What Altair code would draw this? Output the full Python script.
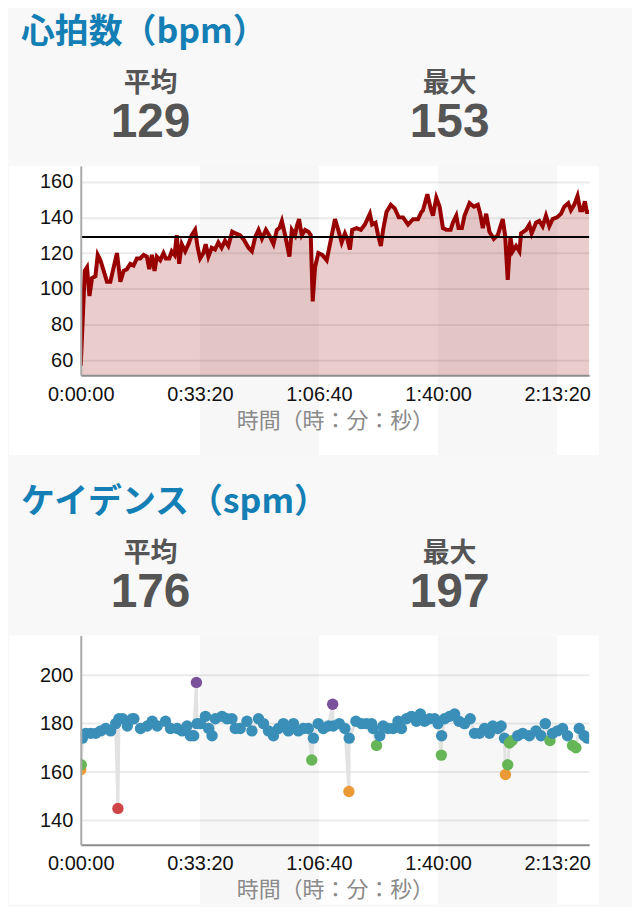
import altair as alt
import pandas as pd

# ---------------- data ----------------
stat_labels = ["平均", "最大"]
hr_stats = [129, 153]
cad_stats = [176, 197]

hr_time = [0, 67, 105, 146, 189, 246, 285, 330, 385, 440, 497, 552, 608, 665, 720, 775, 832, 887,
           942, 999, 1055, 1110, 1150, 1194, 1239, 1277, 1334, 1389, 1428, 1485, 1528, 1574, 1612,
           1652, 1696, 1753, 1808, 1863, 1920, 1964, 2004, 2059, 2098, 2143, 2198, 2255, 2310, 2365,
           2422, 2478, 2544, 2600, 2673, 2729, 2817, 2874, 2930, 2985, 3042, 3109, 3164, 3236, 3293,
           3336, 3377, 3432, 3504, 3544, 3599, 3628, 3666, 3711, 3767, 3822, 3862, 3895, 3934, 3989,
           4056, 4130, 4185, 4269, 4324, 4381, 4436, 4475, 4520, 4558, 4632, 4704, 4771, 4855, 4893,
           4950, 4993, 5039, 5077, 5134, 5206, 5273, 5340, 5412, 5496, 5580, 5663, 5720, 5747, 5820,
           5876, 5914, 5971, 6026, 6082, 6139, 6211, 6249, 6306, 6344, 6400, 6445, 6529, 6601, 6668,
           6708, 6751, 6808, 6863, 6936, 7002, 7048, 7086, 7126, 7170, 7215, 7254, 7310, 7366, 7394,
           7478, 7533, 7572, 7645, 7700, 7756, 7812, 7868, 7923, 7997, 8064, 8119, 8186, 8231, 8286,
           8342, 8387, 8426, 8466, 8499, 8537]
hr_bpm = [57, 110, 112, 96, 106, 107, 119, 116, 110, 104, 104, 112, 120, 104, 110, 111, 114, 113,
          117, 117, 119, 118, 111, 119, 110, 118, 116, 120, 117, 117, 121, 119, 130,
          114, 125, 121, 125, 130, 133, 123, 117, 120, 125, 118, 123, 122, 126, 123,
          127, 124, 132, 131, 130, 128, 123, 121, 129, 133, 128, 133, 130, 125, 133,
          134, 138, 130, 118, 133, 130, 135, 139, 130, 133, 132, 130, 93, 112, 120,
          119, 116, 125, 139, 133, 126, 131, 128, 122, 133, 134, 133, 136, 142, 136,
          137, 130, 124, 133, 143, 147, 145, 140, 140, 136, 139, 139, 143, 144, 153,
          145, 141, 151, 146, 134, 133, 133, 137, 141, 134, 134, 141, 148, 146, 147,
          142, 134, 142, 132, 128, 130, 135, 139, 130, 105, 129, 121, 124, 121, 131,
          133, 136, 131, 137, 138, 135, 141, 135, 139, 140, 142, 146, 148, 144, 147,
          152, 144, 144, 149, 143, 143]

cad_time = [0, 8, 28, 84, 167, 251, 335, 419, 502, 586, 624, 641, 703, 782, 865, 892, 1004, 1117,
            1200, 1284, 1423, 1507, 1619, 1702, 1786, 1841, 1897, 1942, 1954, 2009, 2093, 2148,
            2205, 2260, 2372, 2456, 2539, 2595, 2678, 2791, 2874, 2985, 3068, 3152, 3236, 3320,
            3403, 3487, 3571, 3654, 3738, 3822, 3879, 3906, 3989, 4073, 4157, 4230, 4240, 4341,
            4436, 4503, 4508, 4620, 4716, 4799, 4883, 4910, 4967, 5022, 5077, 5161, 5245, 5328,
            5385, 5469, 5553, 5636, 5703, 5775, 5859, 5943, 5998, 6055, 6060, 6110, 6194, 6278,
            6350, 6445, 6540, 6612, 6696, 6780, 6863, 6919, 7002, 7059, 7115, 7132, 7170, 7198,
            7243, 7337, 7421, 7533, 7645, 7729, 7801, 7879, 7923, 8007, 8091, 8174, 8258, 8315,
            8370, 8454, 8509]
cad_spm = [161, 163, 174, 176, 176, 176, 177, 178, 177, 180, 145, 182, 182, 179, 182, 182, 178, 179,
           181, 179, 181, 178, 178, 177, 179, 175, 175, 197, 180, 180, 183, 178,
           175, 182, 183, 182, 182, 178, 178, 181, 177, 182, 180, 177, 175, 178,
           180, 177, 180, 177, 178, 178, 165, 174, 180, 178, 179, 188, 179, 180,
           178, 152, 174, 181, 180, 180, 180, 178, 171, 175, 179, 178, 178, 181,
           178, 182, 183, 181, 184, 181, 182, 182, 180, 167, 175, 182, 183, 184,
           181, 180, 182, 176, 176, 178, 176, 179, 178, 179, 174, 159, 163, 172,
           173, 175, 176, 175, 177, 175, 180, 173, 176, 177, 178, 175, 171, 170,
           178, 175, 174]

band_start = [2000, 6000]
band_end = [4000, 8000]
time_ticks = [0, 2000, 4000, 6000, 8000]
hr_ticks = [60, 80, 100, 120, 140, 160]
cad_ticks = [140, 160, 180, 200]
cad_zone_bounds = [150, 163, 174, 185]

# ---------------- style ----------------
CJK = "Noto Sans CJK JP"
LATIN = "Liberation Sans"
TITLE_BLUE = "#137fb4"
PAGE = "#f8f8f8"
BAND = "#f7f7f7"
W, H = 510, 210          # plot area of each chart
LEFT = 72                # room left of the plot area (axis labels)
T_END = 8537

time_label = ("floor(datum.value/3600) + ':' + (floor(datum.value%3600/60) < 10 ? '0' : '') + "
              "floor(datum.value%3600/60) + ':' + (datum.value%60 < 10 ? '0' : '') + (datum.value%60)")

XS = alt.Scale(domain=[0, T_END], nice=False, zero=False)
X_AXIS = alt.Axis(values=time_ticks, labelExpr=time_label, title="時間（時：分：秒）",
                  titleFont=CJK, titleFontSize=22, titleFontWeight="normal", titleColor="#8a8a8a",
                  titlePadding=6, labelFont=LATIN, labelFontSize=20, labelColor="#111",
                  labelPadding=9, labelFlush=False, ticks=False, domainColor="#8c8c8c",
                  domainWidth=2, grid=False, zindex=1)


def xenc(field="t"):
    return alt.X(f"{field}:Q", scale=XS, axis=X_AXIS)


def header(title, values, off):
    t = alt.Chart(alt.Data(values=[{"title": title}])).mark_text(
        align="left", baseline="middle", font=CJK, fontSize=34, fontWeight="bold", color=TITLE_BLUE
    ).encode(x=alt.value(12 - LEFT), y=alt.value(23 + off), text="title:N")
    df = pd.DataFrame({"label": stat_labels, "value": values})
    xs = alt.X("label:N", scale=alt.Scale(type="point", domain=stat_labels,
                                          range=[142 - LEFT, 442 - LEFT], padding=0), axis=None)
    lab = alt.Chart(df).mark_text(baseline="middle", font=CJK, fontSize=27, fontWeight="bold",
                                  color="#555").encode(x=xs, y=alt.value(74 + off), text="label:N")
    val = alt.Chart(df).mark_text(baseline="middle", font=LATIN, fontSize=48, fontWeight="bold",
                                  color="#555").encode(x=xs, y=alt.value(113 + off), text="value:Q")
    return alt.layer(t, lab, val).properties(
        width=624 - LEFT, height=154 + off, view=alt.ViewBackground(fill=PAGE, stroke="transparent"))


def panel_layers(bottom):
    panel = alt.Chart(alt.Data(values=[{}])).mark_rect(color="white").encode(
        x=alt.value(-LEFT), x2=alt.value(W + 10), y=alt.value(0), y2=alt.value(bottom))
    band_df = pd.DataFrame({"t": band_start, "t2": band_end})
    bands = alt.Chart(band_df).mark_rect(color=BAND).encode(
        x=xenc(), x2="t2:Q", y=alt.value(0), y2=alt.value(bottom))
    return [panel, bands]


# ---------------- heart rate chart ----------------
hr_df = pd.DataFrame({"t": hr_time, "hr": hr_bpm})
YS1 = alt.Scale(domain=[51.6, 168.8], nice=False, zero=False)
Y_AXIS1 = alt.Axis(values=hr_ticks, title=None, labelFont=LATIN, labelFontSize=20, labelColor="#111",
                   labelPadding=8, ticks=False, domainColor="#aaa", domainWidth=2, grid=True,
                   gridColor="#000", gridOpacity=0.08, gridWidth=2, zindex=1)
hy = alt.Y("hr:Q", scale=YS1, axis=Y_AXIS1)

area = alt.Chart(hr_df).mark_area(color="#990000", opacity=0.2, clip=True).encode(x=xenc(), y=hy)
line = alt.Chart(hr_df).mark_line(color="#990000", strokeWidth=4, clip=True).encode(x=xenc(), y=hy)
avg = alt.Chart(pd.DataFrame({"hr": [hr_stats[0]]})).mark_rule(color="#000", strokeWidth=2).encode(y=hy)

hr_chart = alt.layer(*panel_layers(290), area, line, avg).properties(width=W, height=H)

# ---------------- cadence chart ----------------
cad_df = pd.DataFrame({"t": cad_time, "cad": cad_spm})
YS2 = alt.Scale(domain=[130, 216.4], nice=False, zero=False)
Y_AXIS2 = alt.Axis(values=cad_ticks, title=None, labelFont=LATIN, labelFontSize=20, labelColor="#111",
                   labelPadding=8, ticks=False, domainColor="#aaa", domainWidth=2, grid=False, zindex=1)
cy = alt.Y("cad:Q", scale=YS2, axis=Y_AXIS2)

grid2 = alt.Chart(pd.DataFrame({"cad": cad_ticks})).mark_rule(color="#000", opacity=0.08, strokeWidth=2).encode(y=cy)
cline = alt.Chart(cad_df).mark_line(color="#e2e2e2", strokeWidth=3, clip=True).encode(x=xenc(), y=cy)
pts = alt.Chart(cad_df).mark_circle(size=130, opacity=1, clip=True).encode(
    x=xenc(), y=cy,
    color=alt.Color("cad:Q", scale=alt.Scale(type="threshold", domain=cad_zone_bounds,
                                             range=["#cf4547", "#ec9a36", "#66b556", "#3a8fb9", "#7a519b"]),
                    legend=None))

cad_chart = alt.layer(*panel_layers(270), grid2, cline, pts).properties(width=W, height=H)

chart = alt.vconcat(
    header("心拍数（bpm）", hr_stats, 0),
    hr_chart,
    header("ケイデンス（spm）", cad_stats, 23),
    cad_chart,
    spacing=0,
).properties(padding=0, background=PAGE).configure_view(stroke="transparent")

chart.save("out.html", embed_options={"renderer": "svg", "actions": False})
